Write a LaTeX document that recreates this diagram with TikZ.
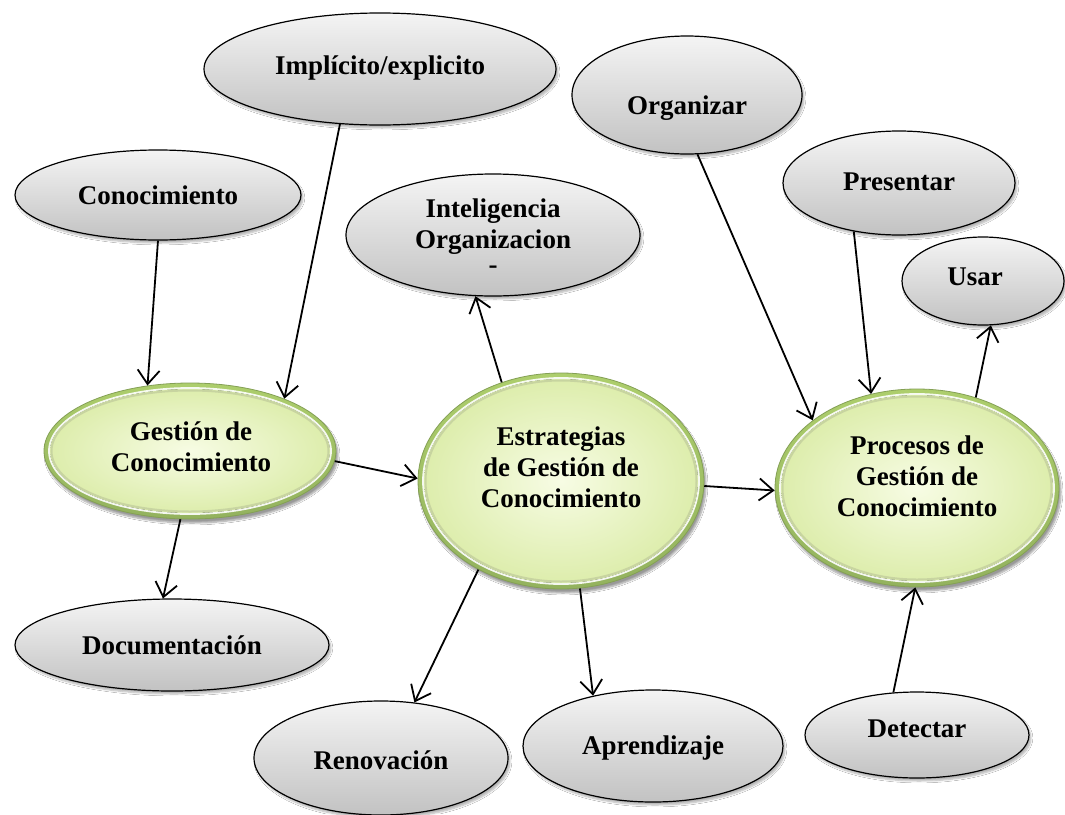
\documentclass[tikz,border=0pt]{standalone}
\usepackage{fontspec}
\setmainfont{Liberation Serif}
\usetikzlibrary{shapes.geometric,arrows.meta,shadows.blur}

\definecolor{ringtop}{HTML}{ADCE6C}
\definecolor{ringbot}{HTML}{93B25E}
\definecolor{coremid}{HTML}{F7FCE4}
\definecolor{coreedge}{HTML}{DDEDAC}
\definecolor{graytop}{HTML}{F4F4F4}
\definecolor{graybot}{HTML}{C2C2C2}

% bevelled light-green core drawn inside a green ring node: name, x radius, y radius
\newcommand{\greencore}[3]{%
  \fill[inner color=coremid, outer color=coreedge] (#1.center) ellipse [x radius=#2-6, y radius=#3-6];
  \draw[white, line width=1.8pt, opacity=.9] (#1.center) ellipse [x radius=#2-5, y radius=#3-5];
  \draw[black!60, line width=2pt, opacity=.18] (#1.center) ellipse [x radius=#2-7.5, y radius=#3-7.5];
}

\begin{document}
\begin{tikzpicture}[x=1pt, y=-1pt,
  txt/.style={font=\bfseries\fontsize{27}{31}\selectfont, align=center, text=black, inner sep=0pt},
  graynode/.style={ellipse, draw=black, line width=1.2pt, top color=graytop, bottom color=graybot,
    inner sep=0pt, blur shadow={shadow xshift=2pt, shadow yshift=-3pt, shadow opacity=30, shadow blur steps=6}},
  ringnode/.style={ellipse, draw=ringbot!90!black, line width=0.8pt, top color=ringtop, bottom color=ringbot,
    inner sep=0pt, blur shadow={shadow xshift=2pt, shadow yshift=-4pt, shadow opacity=40, shadow blur steps=8}},
  conn/.style={line width=1.8pt, -{Straight Barb[length=14pt, width=22pt, line width=1.8pt]}}
]
\useasboundingbox (0,0) rectangle (1065,814);
\fill[white] (0,0) rectangle (1065,814);

% outer concepts
\node[graynode, minimum width=286, minimum height=90]  (kno)   at (158,195) {};
\node[graynode, minimum width=352, minimum height=112] (imp)   at (380,69)  {};
\node[graynode, minimum width=230, minimum height=118] (org)   at (687,95)  {};
\node[graynode, minimum width=232, minimum height=104] (pre)   at (899,183) {};
\node[graynode, minimum width=294, minimum height=122] (intel) at (493,235) {};
\node[graynode, minimum width=162, minimum height=88]  (usar)  at (983,281) {};
\node[graynode, minimum width=314, minimum height=92]  (doc)   at (172,645) {};
\node[graynode, minimum width=254, minimum height=114] (ren)   at (381,758) {};
\node[graynode, minimum width=260, minimum height=112] (apr)   at (653,746) {};
\node[graynode, minimum width=224, minimum height=86]  (det)   at (917,735) {};

% central concepts
\node[ringnode, minimum width=292, minimum height=136] (ges) at (190,451) {};
\greencore{ges}{146}{68}
\node[ringnode, minimum width=286, minimum height=216] (est) at (561,481) {};
\greencore{est}{143}{108}
\node[ringnode, minimum width=284, minimum height=198] (pro) at (917,488) {};
\greencore{pro}{142}{99}

% labels
\node[txt] (knoT)   at (158,195) {Conocimiento};
\node[txt] (impT)   at (380,68)  {Implícito/explicito};
\node[txt] (orgT)   at (687,108) {Organizar};
\node[txt] (preT)   at (899,182) {Presentar};
\node[txt] (intelT) at (493,236) {Inteligencia\\Organizacion\\[-6pt]-};
\node[txt] (usarT)  at (975,277) {Usar};
\node[txt] (docT)   at (172,645) {Documentación};
\node[txt] (renT)   at (381,760) {Renovación};
\node[txt] (aprT)   at (653,748) {Aprendizaje};
\node[txt] (detT)   at (917,729) {Detectar};
\node[txt] (gesT)   at (191,447) {Gestión de\\Conocimiento};
\node[txt] (estT)   at (561,467) {Estrategias\\de Gestión de\\Conocimiento};
\node[txt] (proT)   at (917,476) {Procesos de\\Gestión de\\Conocimiento};

% connectors
\draw[conn] (kno.-90)     -- (ges.123);
\draw[conn] (imp.-126.6)  -- (ges.29.5);
\draw[conn] (ges.-4.7)    -- (est.179);
\draw[conn] (ges.-98)     -- (doc.101);
\draw[conn] (est.121.3)   -- (intel.-106);
\draw[conn] (est.-133)    -- (ren.59);
\draw[conn] (est.-80)     -- (apr.140);
\draw[conn] (est.-2.4)    -- (pro.181.6);
\draw[conn] (org.-80.8)   -- (pro.147.3);
\draw[conn] (pre.-133)    -- (pro.116.8);
\draw[conn] (pro.57.8)    -- (usar.-80);
\draw[conn] (det.119.7)   -- (pro.-91);
\end{tikzpicture}
\end{document}
